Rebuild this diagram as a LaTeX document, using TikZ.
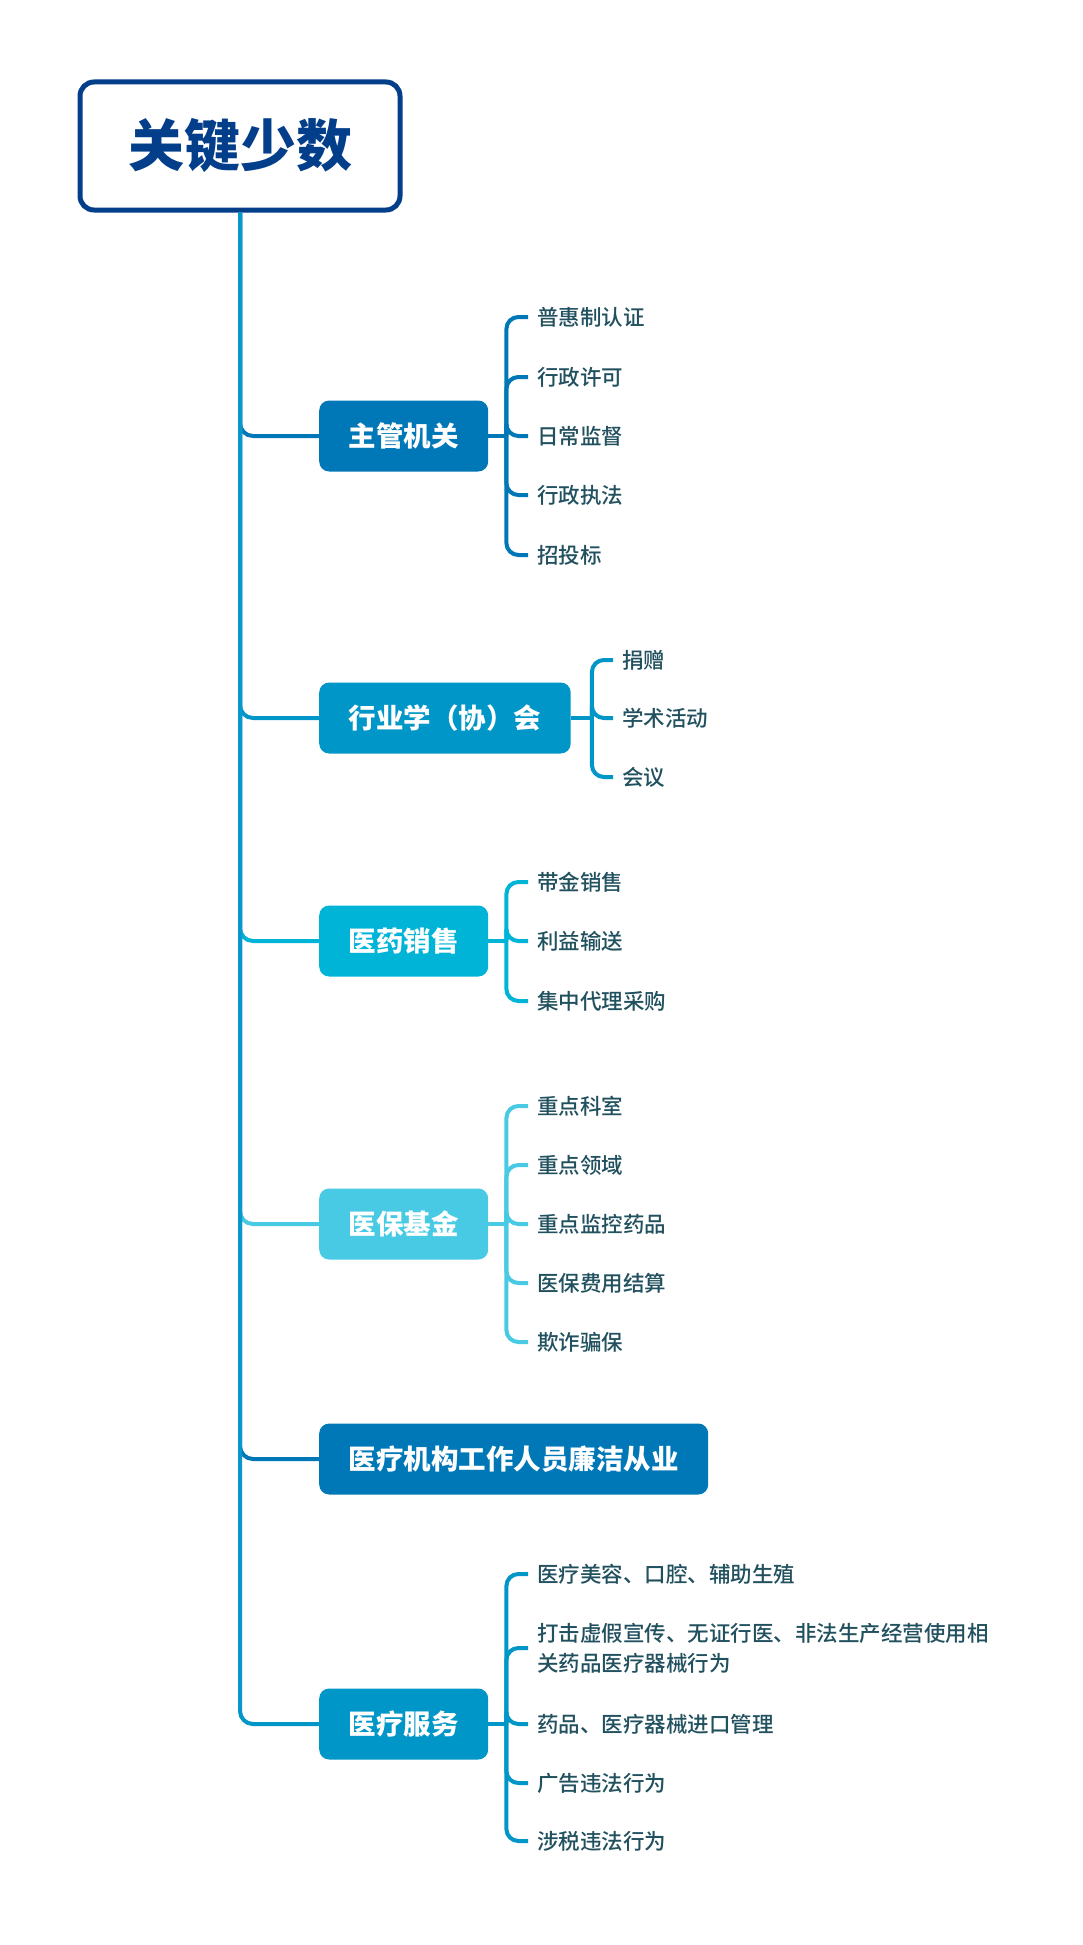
\documentclass[tikz,border=0pt]{standalone}
\usepackage{fontspec}
\newfontfamily\cjk{Noto Sans CJK SC}
\newfontfamily\cjkm{Noto Sans CJK SC}[UprightFont={* Medium}]
\definecolor{rootc}{HTML}{023E8A}
\definecolor{cA}{HTML}{0077B6}
\definecolor{cB}{HTML}{0096C7}
\definecolor{cC}{HTML}{00B4D8}
\definecolor{cD}{HTML}{48CAE4}
\definecolor{trunkc}{HTML}{0A98CC}
\definecolor{leafc}{HTML}{21505E}
\tikzset{
  mainbox/.style={anchor=west, rounded corners=10pt, fill=#1, text=white,
    font=\cjk\bfseries\fontsize{27.5}{30}\selectfont, minimum height=71pt, inner xsep=29.5pt, inner ysep=0pt},
  leaf/.style={anchor=west, text=leafc, font=\cjkm\fontsize{21.5}{30}\selectfont,
    inner xsep=9pt, inner ysep=2pt, align=left},
  conn/.style={draw=#1, line width=4pt, rounded corners=12pt},
  br/.style={draw=#1, line width=4pt, rounded corners=13pt},
}
\begin{document}
\begin{tikzpicture}[x=1pt,y=-1pt]
\useasboundingbox (0,0) rectangle (1083,1945);
\fill[white] (0,0) rectangle (1083,1945);
% root
\node[draw=rootc, line width=5pt, rounded corners=14pt, minimum width=320pt, minimum height=128pt,
  text=rootc, font=\cjk\bfseries\fontsize{56}{60}\selectfont, inner sep=0pt] (root) at (240,146) {关键少数};
% main boxes
\node[mainbox=cA] (b1) at (319,436) {主管机关};
\node[mainbox=cB] (b2) at (319,718) {行业学（协）会};
\node[mainbox=cC] (b3) at (319,941) {医药销售};
\node[mainbox=cD] (b4) at (319,1224) {医保基金};
\node[mainbox=cA] (b5) at (319,1459) {医疗机构工作人员廉洁从业};
\node[mainbox=cB] (b6) at (319,1724) {医疗服务};
% trunk branches
\draw[br=cA] (root.south) |- (b1.west);
\draw[br=cB] (root.south) |- (b2.west);
\draw[br=cC] (root.south) |- (b3.west);
\draw[br=cD] (root.south) |- (b4.west);
\draw[br=cA] (root.south) |- (b5.west);
\draw[br=cB] (root.south) |- (b6.west);
\draw[draw=trunkc, line width=4pt] (root.south) -- ([yshift=14pt]root.south |- b6.west);
% leaves b1
\node[leaf] (l11) at (528,317) {普惠制认证};
\node[leaf] (l12) at (528,377) {行政许可};
\node[leaf] (l13) at (528,436) {日常监督};
\node[leaf] (l14) at (528,495) {行政执法};
\node[leaf] (l15) at (528,555) {招投标};
\coordinate (j1) at ([xshift=18pt]b1.east);
\draw[conn=cA] (b1.east) -- (j1);
\foreach \l in {l11,l12,l13,l14,l15} \draw[conn=cA] (j1) |- (\l.west);
% leaves b2
\node[leaf] (l21) at (613,660) {捐赠};
\node[leaf] (l22) at (613,718) {学术活动};
\node[leaf] (l23) at (613,777) {会议};
\coordinate (j2) at ([xshift=21pt]b2.east);
\draw[conn=cB] (b2.east) -- (j2);
\foreach \l in {l21,l22,l23} \draw[conn=cB] (j2) |- (\l.west);
% leaves b3
\node[leaf] (l31) at (528,882) {带金销售};
\node[leaf] (l32) at (528,941) {利益输送};
\node[leaf] (l33) at (528,1001) {集中代理采购};
\coordinate (j3) at ([xshift=18pt]b3.east);
\draw[conn=cC] (b3.east) -- (j3);
\foreach \l in {l31,l32,l33} \draw[conn=cC] (j3) |- (\l.west);
% leaves b4
\node[leaf] (l41) at (528,1106) {重点科室};
\node[leaf] (l42) at (528,1165) {重点领域};
\node[leaf] (l43) at (528,1224) {重点监控药品};
\node[leaf] (l44) at (528,1283) {医保费用结算};
\node[leaf] (l45) at (528,1342) {欺诈骗保};
\coordinate (j4) at ([xshift=18pt]b4.east);
\draw[conn=cD] (b4.east) -- (j4);
\foreach \l in {l41,l42,l43,l44,l45} \draw[conn=cD] (j4) |- (\l.west);
% leaves b6
\node[leaf] (l61) at (528,1574) {医疗美容、口腔、辅助生殖};
\node[leaf] (l62) at (528,1648) {打击虚假宣传、无证行医、非法生产经营使用相\\关药品医疗器械行为};
\node[leaf] (l63) at (528,1724) {药品、医疗器械进口管理};
\node[leaf] (l64) at (528,1783) {广告违法行为};
\node[leaf] (l65) at (528,1841) {涉税违法行为};
\coordinate (j6) at ([xshift=18pt]b6.east);
\draw[conn=cB] (b6.east) -- (j6);
\foreach \l in {l61,l62,l63,l64,l65} \draw[conn=cB] (j6) |- (\l.west);
\end{tikzpicture}
\end{document}
